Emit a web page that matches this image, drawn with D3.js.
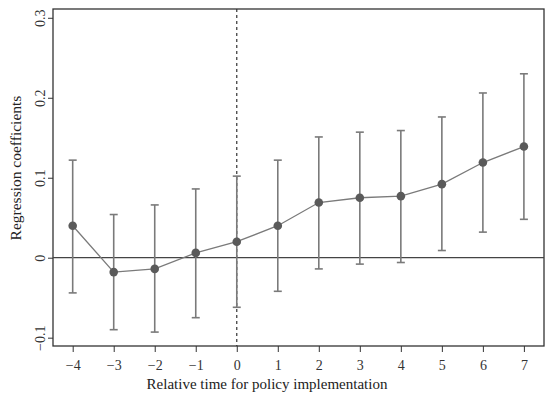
<!DOCTYPE html>
<html>
<head>
<meta charset="utf-8">
<script src="https://cdn.jsdelivr.net/npm/d3@7"></script>
<style>
  body { margin: 0; background: #fff; }
  svg { display: block; }
</style>
</head>
<body>
<div class="chart"></div>
<script>
const periods = [-4, -3, -2, -1, 0, 1, 2, 3, 4, 5, 6, 7];
const coefs = [0.040, -0.018, -0.014, 0.006, 0.020, 0.040, 0.069, 0.075, 0.077, 0.092, 0.119, 0.139];
const upper = [0.122, 0.054, 0.066, 0.086, 0.102, 0.122, 0.151, 0.157, 0.159, 0.176, 0.206, 0.230];
const lower = [-0.044, -0.090, -0.093, -0.075, -0.062, -0.042, -0.014, -0.008, -0.006, 0.009, 0.032, 0.048];
const yTicks = [-0.1, 0, 0.1, 0.2, 0.3];

const width = 550;
const height = 396;
const margin = { top: 9, right: 6, bottom: 50, left: 53 };
const graphWidth = width - margin.left - margin.right;
const graphHeight = height - margin.top - margin.bottom;

const data = periods.map((p, i) => ({ p: p, b: coefs[i], hi: upper[i], lo: lower[i] }));

const svg = d3.select(".chart")
    .append("svg")
    .attr("width", width)
    .attr("height", height);
const graph = svg.append("g")
    .attr("transform", `translate(${margin.left}, ${margin.top})`);

const x = d3.scaleLinear()
    .domain([-4.48, 7.49])
    .range([0, graphWidth]);
const y = d3.scaleLinear()
    .domain([-0.1104, 0.311])
    .range([graphHeight, 0]);

const font = "'Liberation Serif', 'Times New Roman', serif";

// axes
const xAxis = d3.axisBottom(x).tickValues(periods).tickFormat(d => d < 0 ? "\u2212" + Math.abs(d) : d).tickSize(6).tickPadding(8);
const yAxis = d3.axisLeft(y).tickValues(yTicks).tickFormat(d => d === 0 ? "0" : (d < 0 ? "\u2212" : "") + Math.abs(d).toFixed(1)).tickSize(5);

const gX = graph.append("g").attr("transform", `translate(0, ${graphHeight})`).call(xAxis);
const gY = graph.append("g").call(yAxis);
[gX, gY].forEach(g => {
    g.select(".domain").remove();
    g.selectAll("line").attr("stroke", "#333");
    g.selectAll("text").attr("fill", "#333").style("font-family", font).style("font-size", "14px");
});
gY.selectAll("text")
    .attr("text-anchor", "middle")
    .attr("dy", "0")
    .attr("x", 0)
    .attr("y", 0)
    .attr("transform", "translate(-8, 0) rotate(-90)");

// frame
graph.append("rect")
    .attr("width", graphWidth)
    .attr("height", graphHeight)
    .attr("fill", "none")
    .attr("stroke", "#333")
    .attr("stroke-width", 1.3);

// zero line
graph.append("line")
    .attr("x1", 0).attr("x2", graphWidth)
    .attr("y1", y(0)).attr("y2", y(0))
    .attr("stroke", "#444").attr("stroke-width", 1.3);

// policy line
graph.append("line")
    .attr("x1", x(0)).attr("x2", x(0))
    .attr("y1", 0).attr("y2", graphHeight)
    .attr("stroke", "#333").attr("stroke-width", 1.2)
    .attr("stroke-dasharray", "3,3");

// error bars
const bars = graph.selectAll(".ci").data(data).enter().append("g").attr("class", "ci")
    .attr("stroke", "#7a7a7a").attr("stroke-width", 1.6);
bars.append("line")
    .attr("x1", d => x(d.p)).attr("x2", d => x(d.p))
    .attr("y1", d => y(d.hi)).attr("y2", d => y(d.lo));
bars.append("line")
    .attr("x1", d => x(d.p) - 4).attr("x2", d => x(d.p) + 4)
    .attr("y1", d => y(d.hi)).attr("y2", d => y(d.hi));
bars.append("line")
    .attr("x1", d => x(d.p) - 4).attr("x2", d => x(d.p) + 4)
    .attr("y1", d => y(d.lo)).attr("y2", d => y(d.lo));

// connecting line
graph.append("path")
    .datum(data)
    .attr("fill", "none")
    .attr("stroke", "#7a7a7a")
    .attr("stroke-width", 1.3)
    .attr("d", d3.line().x(d => x(d.p)).y(d => y(d.b)));

graph.selectAll(".pt").data(data).enter().append("circle")
    .attr("class", "pt")
    .attr("cx", d => x(d.p))
    .attr("cy", d => y(d.b))
    .attr("r", 4.3)
    .attr("fill", "#5a5a5a");

// titles
svg.append("text")
    .attr("x", 267)
    .attr("y", 389)
    .attr("text-anchor", "middle")
    .style("font-family", font)
    .style("font-size", "15px")
    .attr("fill", "#222")
    .text("Relative time for policy implementation");

svg.append("text")
    .attr("transform", "translate(21, 168) rotate(-90)")
    .attr("text-anchor", "middle")
    .style("font-family", font)
    .style("font-size", "15.5px")
    .attr("fill", "#222")
    .text("Regression coefficients");
</script>
</body>
</html>
